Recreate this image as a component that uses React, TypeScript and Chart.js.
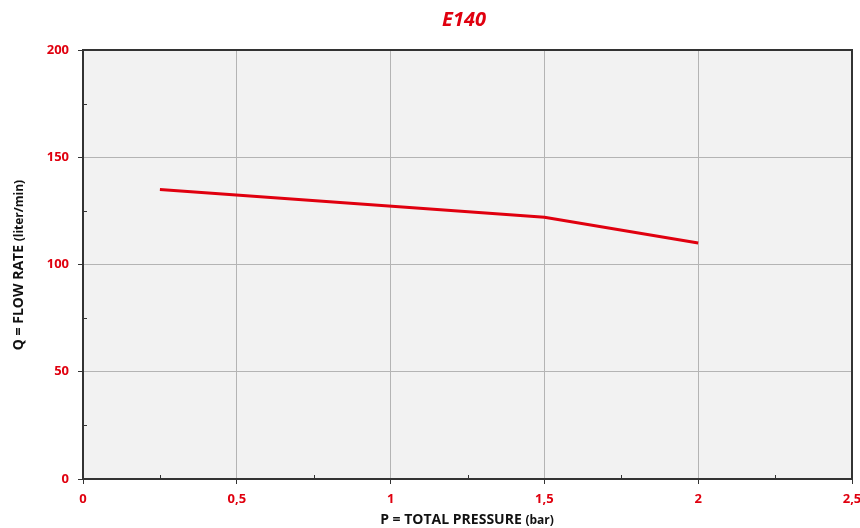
import React, { useEffect, useRef } from "react";
import { Chart, registerables } from "chart.js";

Chart.register(...registerables);

const pressure = [0.25, 1.5, 2];
const flowRate = [135, 122, 110];
const xTicks = [0, 0.5, 1, 1.5, 2, 2.5];
const yTicks = [0, 50, 100, 150, 200];
const xMinor = [0.25, 0.75, 1.25, 1.75, 2.25];
const yMinor = [25, 75, 125, 175];

const RED = "#e0000f";
const FONT = "'Open Sans', 'DejaVu Sans', sans-serif";

const decorPlugin = {
  id: "decor",
  beforeDraw(chart: any) {
    const { ctx, chartArea } = chart;
    ctx.save();
    ctx.fillStyle = "#f2f2f2";
    ctx.fillRect(chartArea.left, chartArea.top, chartArea.right - chartArea.left, chartArea.bottom - chartArea.top);
    ctx.restore();
  },
  afterDraw(chart: any) {
    const { ctx, chartArea, scales } = chart;
    const xs = scales.x;
    const ys = scales.y;
    ctx.save();
    ctx.strokeStyle = "#333";
    ctx.lineWidth = 1;
    xMinor.forEach((v) => {
      const px = Math.round(xs.getPixelForValue(v)) + 0.5;
      ctx.beginPath();
      ctx.moveTo(px, chartArea.bottom);
      ctx.lineTo(px, chartArea.bottom - 4);
      ctx.stroke();
    });
    yMinor.forEach((v) => {
      const py = Math.round(ys.getPixelForValue(v)) + 0.5;
      ctx.beginPath();
      ctx.moveTo(chartArea.left, py);
      ctx.lineTo(chartArea.left + 4, py);
      ctx.stroke();
    });
    ctx.lineWidth = 2;
    ctx.strokeStyle = "#333";
    ctx.strokeRect(chartArea.left, chartArea.top, chartArea.right - chartArea.left, chartArea.bottom - chartArea.top);

    // title
    ctx.fillStyle = RED;
    ctx.textAlign = "center";
    ctx.textBaseline = "middle";
    ctx.font = `italic bold 20px ${FONT}`;
    ctx.fillText("E140", 464, 20);

    // x axis title
    ctx.fillStyle = "#111";
    ctx.textBaseline = "alphabetic";
    const main = "P = TOTAL PRESSURE ";
    const sub = "(bar)";
    ctx.font = `bold 14px ${FONT}`;
    const w1 = ctx.measureText(main).width;
    ctx.font = `bold 12px ${FONT}`;
    const w2 = ctx.measureText(sub).width;
    const cx = 467;
    const startX = cx - (w1 + w2) / 2;
    ctx.textAlign = "left";
    ctx.font = `bold 14px ${FONT}`;
    ctx.fillText(main, startX, 524);
    ctx.font = `bold 12px ${FONT}`;
    ctx.fillText(sub, startX + w1, 524);

    // y axis title
    ctx.save();
    ctx.translate(23, 265);
    ctx.rotate(-Math.PI / 2);
    const ymain = "Q = FLOW RATE ";
    const ysub = "(liter/min)";
    ctx.font = `bold 14px ${FONT}`;
    const yw1 = ctx.measureText(ymain).width;
    ctx.font = `bold 12px ${FONT}`;
    const yw2 = ctx.measureText(ysub).width;
    const sx = -(yw1 + yw2) / 2;
    ctx.font = `bold 14px ${FONT}`;
    ctx.fillText(ymain, sx, 0);
    ctx.font = `bold 12px ${FONT}`;
    ctx.fillText(ysub, sx + yw1, 0);
    ctx.restore();
    ctx.restore();
  },
};

export default function App() {
  const ref = useRef<HTMLCanvasElement>(null);
  useEffect(() => {
    if (!ref.current) return;
    const chart = new Chart(ref.current, {
      type: "scatter",
      data: {
        datasets: [
          {
            data: pressure.map((p, i) => ({ x: p, y: flowRate[i] })),
            showLine: true,
            borderColor: RED,
            borderWidth: 3,
            pointRadius: 0,
            tension: 0,
          },
        ],
      },
      options: {
        animation: false,
        responsive: true,
        maintainAspectRatio: false,
        layout: { padding: { top: 50, right: 0, left: 0, bottom: 0 } },
        plugins: { legend: { display: false }, tooltip: { enabled: false }, title: { display: false } },
        scales: {
          x: {
            type: "linear",
            min: 0,
            max: 2.5,
            afterBuildTicks: (s: any) => {
              s.ticks = xTicks.map((v) => ({ value: v }));
            },
            afterFit: (s: any) => {
              s.height = 49;
              s.paddingRight = 8;
              s.paddingLeft = 0;
            },
            ticks: {
              color: RED,
              font: { family: FONT, weight: "bold", size: 13 },
              padding: 7,
              maxRotation: 0,
              callback: (v: any) => String(v).replace(".", ","),
            },
            grid: { color: "#b4b4b4", lineWidth: 1, tickLength: 5, tickColor: "#333" },
            border: { color: "#333", width: 2 },
          },
          y: {
            type: "linear",
            min: 0,
            max: 200,
            afterBuildTicks: (s: any) => {
              s.ticks = yTicks.map((v) => ({ value: v }));
            },
            afterFit: (s: any) => {
              s.width = 83;
              s.paddingTop = 0;
              s.paddingBottom = 0;
            },
            ticks: {
              color: RED,
              font: { family: FONT, weight: "bold", size: 13 },
              padding: 9,
            },
            grid: { color: "#b4b4b4", lineWidth: 1, tickLength: 5, tickColor: "#333" },
            border: { color: "#333", width: 2 },
          },
        },
      } as any,
      plugins: [decorPlugin],
    });
    return () => chart.destroy();
  }, []);
  return (
    <div style={{ position: "fixed", left: 0, top: 0, width: 860, height: 528, background: "#fff" }}>
      <canvas ref={ref} />
    </div>
  );
}
